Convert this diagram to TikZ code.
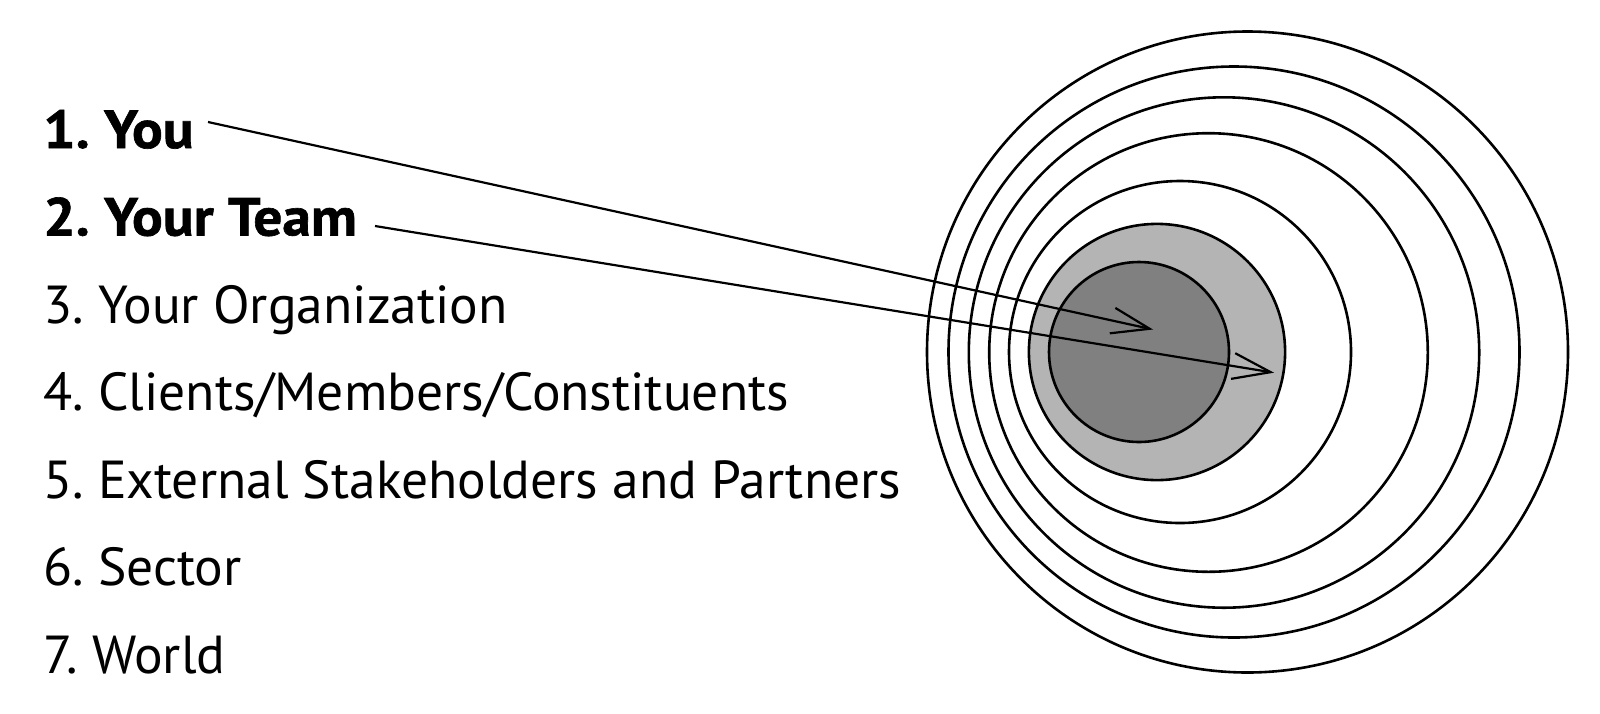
\documentclass[tikz,border=0pt]{standalone}
\usepackage{fontspec}
\setmainfont{PT Sans}
\newfontfamily\heavyfont{PT Sans Bold}[FakeBold=1.2,FakeStretch=1.07]
\usetikzlibrary{arrows.meta}
\definecolor{darkfill}{RGB}{128,128,128}
\definecolor{lightfill}{RGB}{180,180,180}
\tikzset{
  ring/.style={draw=black, line width=2.6pt},
  label/.style={anchor=base west, inner sep=0pt, font=\fontsize{53.5}{53.5}\selectfont\frenchspacing},
  boldlabel/.style={label, font=\fontsize{53.5}{53.5}\heavyfont\frenchspacing},
  arr/.style={draw=black, line width=2.2pt, -{Straight Barb[length=38pt,width=26pt,line width=2.2pt]}}
}
\begin{document}
\begin{tikzpicture}[x=1pt,y=-1pt]
\useasboundingbox[fill=white] (0,0) rectangle (1600,713);
% rings
\draw[ring] (1247.5,352) circle[radius=320.5pt];
\draw[ring] (1234,352) circle[radius=285.5pt];
\draw[ring] (1224,352.5) circle[radius=255.2pt];
\draw[ring] (1208.5,352.5) circle[radius=219.3pt];
\draw[ring] (1180,352) circle[radius=171pt];
\draw[ring, fill=lightfill] (1157,352) circle[radius=128.1pt];
\draw[ring, fill=darkfill] (1139,352) circle[radius=90pt];
% labels
\node[boldlabel] (t1) at (43,148) {1. You};
\node[boldlabel] (t2) at (43,235.5) {2. Your Team};
\node[label] (t3) at (43,323) {3. Your Organization};
\node[label] (t4) at (43,410.5) {4. Clients/Members/Constituents};
\node[label] (t5) at (43,498) {5. External Stakeholders and Partners};
\node[label] (t6) at (43,585.5) {6. Sector};
\node[label] (t7) at (43,673) {7. World};
% arrow ends
\coordinate (s1) at (208,122);
\coordinate (e1) at (1153,329.5);
\coordinate (s2) at (375,226);
\coordinate (e2) at (1274,372.7);
\draw[arr] (s1) -- (e1);
\draw[arr] (s2) -- (e2);
\end{tikzpicture}
\end{document}
